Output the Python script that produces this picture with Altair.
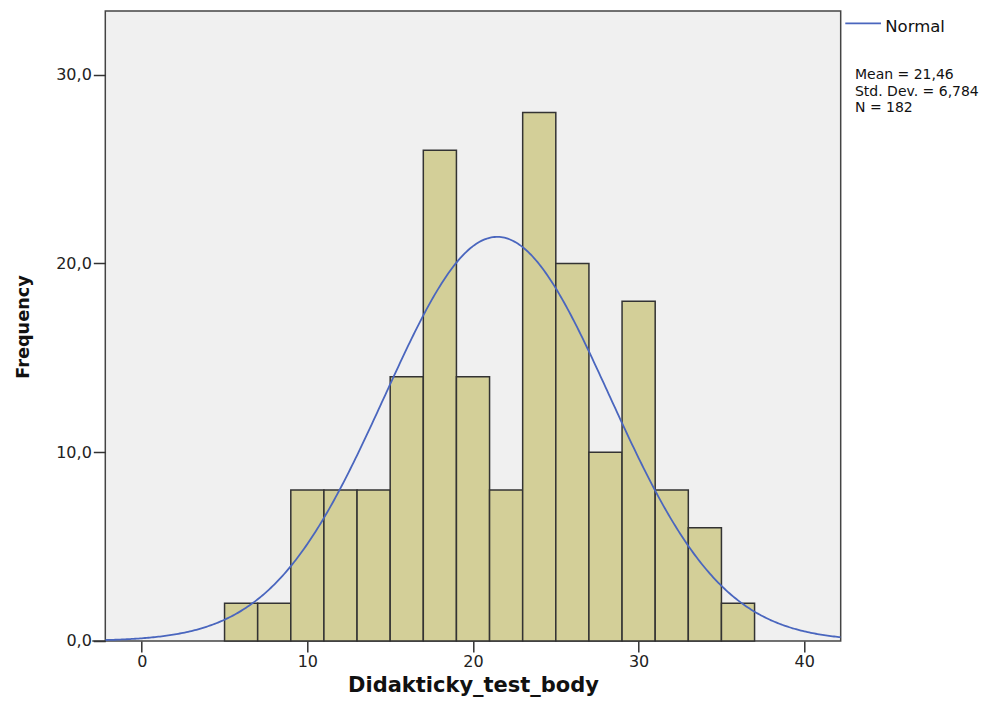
import altair as alt
import pandas as pd

# ---- data ----
bin_start = [5, 7, 9, 11, 13, 15, 17, 19, 21, 23, 25, 27, 29, 31, 33, 35]
counts = [2, 2, 8, 8, 8, 14, 26, 14, 8, 28, 20, 10, 18, 8, 6, 2]
BIN_W = 2
MEAN = 21.46
SD = 6.784
N = 182
x_ticks = [0, 10, 20, 30, 40]
y_ticks = [0, 10, 20, 30]
X_DOMAIN = [-2.2, 42.2]
Y_DOMAIN = [0, 33.37]

bars_df = pd.DataFrame({
    "start": bin_start,
    "end": [s + BIN_W for s in bin_start],
    "count": counts,
})

W, H = 735.4, 630
FONT = "DejaVu Sans"

xscale = alt.Scale(domain=X_DOMAIN, nice=False, zero=False)
yscale = alt.Scale(domain=Y_DOMAIN, nice=False, zero=False)

x_axis = alt.Axis(
    values=x_ticks, title="Didakticky_test_body", grid=False, domain=False,
    tickSize=11, tickColor="#333", tickWidth=1.5, labelPadding=2,
    labelFont=FONT, labelFontSize=16, labelColor="#222",
    titleFont=FONT, titleFontSize=21, titleFontWeight="bold", titleColor="#111",
    titleY=51, titleBaseline="alphabetic", titleX=W / 2, titleAlign="center",
)
y_axis = alt.Axis(
    values=y_ticks, title="Frequency", grid=False, domain=False,
    tickSize=12, tickColor="#333", tickWidth=1.5, labelPadding=2,
    labelFont=FONT, labelFontSize=16, labelColor="#222",
    labelExpr="replace(format(datum.value, '.1f'), '.', ',')",
    titleFont=FONT, titleFontSize=17.7, titleFontWeight="bold", titleColor="#111",
    titleAngle=270, titleX=-77, titleY=315.5, titleBaseline="alphabetic", titleAlign="center",
)

bars = alt.Chart(bars_df).mark_rect(
    fill="#D3CF98", stroke="#333", strokeWidth=1.5
).encode(
    x=alt.X("start:Q", scale=xscale, axis=x_axis),
    x2="end:Q",
    y=alt.Y("count:Q", scale=yscale, axis=y_axis),
    y2=alt.datum(0),
)

curve = alt.Chart(alt.sequence(X_DOMAIN[0], X_DOMAIN[1] + 0.05, 0.1, as_="v")).transform_calculate(
    dens=f"{N * BIN_W} * exp(-0.5 * pow((datum.v - {MEAN}) / {SD}, 2)) / ({SD} * sqrt(2 * PI))"
).mark_line(color="#4A66BE", strokeWidth=1.8, clip=True).encode(
    x=alt.X("v:Q", scale=xscale),
    y=alt.Y("dens:Q", scale=yscale),
)

one = pd.DataFrame({"k": [0]})

# axis corner extension at the bottom-left
corner = alt.Chart(one).mark_rule(color="#333", strokeWidth=1.5).encode(
    x=alt.value(-13), x2=alt.value(0), y=alt.value(H)
)

legend_line = alt.Chart(one).mark_rule(color="#4A66BE", strokeWidth=1.8).encode(
    x=alt.value(740), x2=alt.value(775.7), y=alt.value(12.3)
)
legend_text = alt.Chart(one).mark_text(
    align="left", baseline="alphabetic", font=FONT, fontSize=16.5, color="#111"
).encode(x=alt.value(780), y=alt.value(20.7), text=alt.value("Normal"))

stat_lines = [
    "Mean = " + f"{MEAN:.2f}".replace(".", ","),
    "Std. Dev. = " + f"{SD:.3f}".replace(".", ","),
    f"N = {N}",
]
stat_y = [68.0, 84.5, 101.0]
stats = [
    alt.Chart(one).mark_text(
        align="left", baseline="alphabetic", font=FONT, fontSize=14, color="#111"
    ).encode(x=alt.value(749.7), y=alt.value(yy), text=alt.value(t))
    for t, yy in zip(stat_lines, stat_y)
]

chart = alt.layer(bars, curve, corner, legend_line, legend_text, *stats).properties(
    width=W, height=H,
    padding={"left": 97.3, "top": 3, "right": 157, "bottom": 56},
    autosize=alt.AutoSizeParams(type="none"),
    background="white",
).configure_view(
    fill="#F0F0F0", stroke="#444", strokeWidth=1.5
)

chart.save("out.html", embed_options={"renderer": "svg", "actions": False})
